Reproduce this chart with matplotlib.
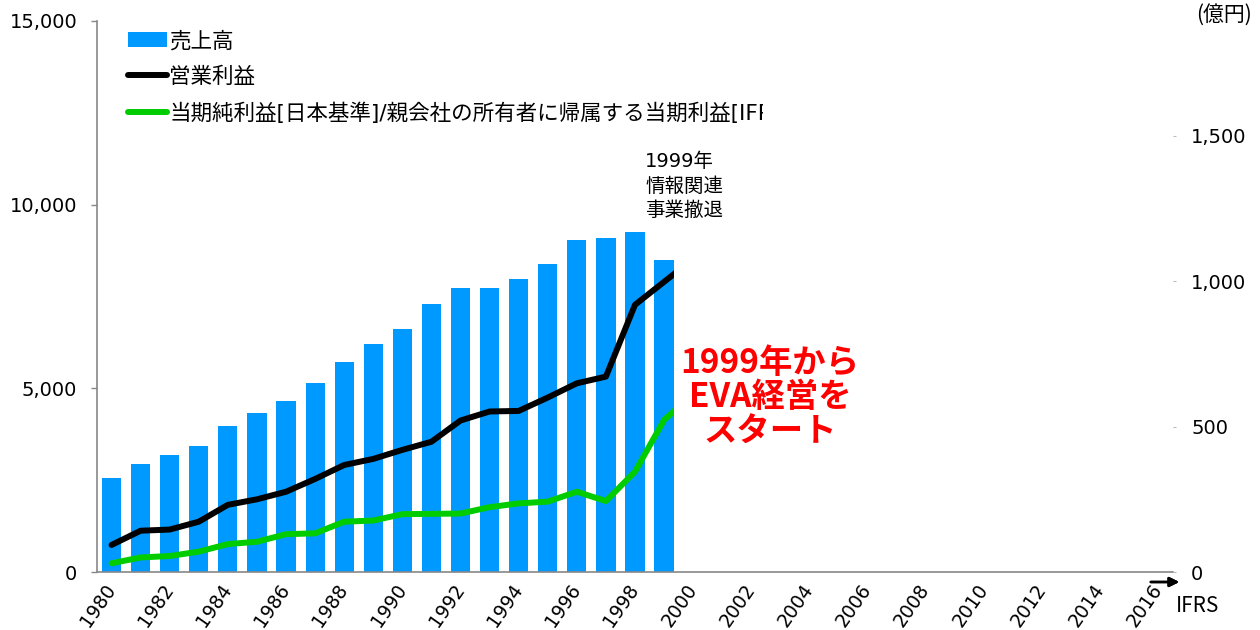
import numpy as np
import matplotlib.pyplot as plt
from matplotlib.patches import Rectangle
from matplotlib.transforms import Bbox, TransformedBbox

plt.rcParams['font.family'] = ['DejaVu Sans', 'Noto Sans CJK JP']

years = list(range(1980, 2017))
bar_years = list(range(1980, 2000))
line_years = list(range(1980, 2001))

# 売上高 (left axis)
sales = [2560, 2940, 3185, 3430, 3975, 4335, 4645, 5145, 5725, 6205,
         6625, 7305, 7720, 7740, 7975, 8375, 9030, 9085, 9255, 8485]

# 営業利益 (right axis)
op_profit = [93, 142, 146, 173, 231, 250, 276, 320, 368, 389,
             420, 448, 521, 552, 554, 600, 649, 672, 919, 998, 1077]

# 当期純利益 (right axis)
net_profit = [30, 50, 55, 70, 96, 104, 130, 133, 173, 177,
              199, 200, 201, 223, 236, 242, 276, 244, 345, 523, 612]

tick_years = years[::2]

fig = plt.figure(figsize=(12.6, 6.3), dpi=100)
ax = fig.add_axes([97 / 1260, 58 / 630, 1076 / 1260, 551 / 630])
ax2 = ax.twinx()

xb = np.arange(len(bar_years))
xl = np.arange(len(line_years))

bars = ax.bar(xb, sales, width=0.66, color='#0099FF', label='売上高', zorder=2)
ax.set_xlim(-0.5, len(years) - 0.5)
ax.set_ylim(0, 15000)
ax.set_yticks([0, 5000, 10000, 15000])
ax.set_yticklabels(['0', '5,000', '10,000', '15,000'])
ax.set_xticks(np.arange(0, len(years), 2))
ax.set_xticklabels([str(y) for y in tick_years], rotation=55, ha='right', va='center',
                   rotation_mode='anchor')
ax.tick_params(axis='x', length=0, pad=10, labelsize=13.5)
ax.tick_params(axis='y', length=4.3, width=1, color='#888888', pad=10, labelsize=14)
for s in ['top', 'right']:
    ax.spines[s].set_visible(False)
ax.spines['left'].set_color('#888888')
ax.spines['bottom'].set_color('#888888')
ax.spines['left'].set_linewidth(1.2)
ax.spines['bottom'].set_linewidth(1.2)

l1, = ax2.plot(xl, op_profit, color='black', lw=4.3, label='営業利益',
               solid_capstyle='round', solid_joinstyle='round', zorder=3)
l2, = ax2.plot(xl, net_profit, color='#00CC00', lw=4.3,
               label='当期純利益[日本基準]/親会社の所有者に帰属する当期利益[IFRS]',
               solid_capstyle='round', solid_joinstyle='round', zorder=3)
clip = Rectangle((-1, -100), 20.35, 3000, transform=ax2.transData)
l1.set_clip_path(clip)
l2.set_clip_path(clip)

ax2.set_ylim(0, 1895)
ax2.set_yticks([0, 500, 1000, 1500])
ax2.set_yticklabels(['0', '500', '1,000', '1,500'])
ax2.tick_params(axis='y', length=2, color='#bbbbbb', pad=11, labelsize=14)
for s in ['top', 'right', 'left', 'bottom']:
    ax2.spines[s].set_visible(False)

leg = ax2.legend(handles=[bars, l1, l2], loc='upper left', bbox_to_anchor=(0.015, 1.01),
                 frameon=False, fontsize=15.5, handlelength=1.8, handletextpad=0.1,
                 labelspacing=0.72, borderpad=0.2)
for t in leg.get_texts():
    t.set_clip_box(TransformedBbox(Bbox([[0, 0], [763 / 1260, 1]]), fig.transFigure))
    t.set_clip_on(True)

# annotations
fig.text(645 / 1260, 1 - 152 / 630, '1999年\n情報関連\n事業撤退', fontsize=14,
         ha='left', va='top', linespacing=1.38, family=['DejaVu Sans', 'Noto Sans CJK JP'])
fig.text(770 / 1260, 1 - 398 / 630, '1999年から\nEVA経営を\nスタート', fontsize=24,
         color='#FF0000', weight='bold', ha='center', va='center', linespacing=1.05,
         family=['Noto Sans CJK JP'])
fig.text(1252 / 1260, 1 - 15 / 630, '(億円)', fontsize=15, ha='right', va='center',
         family=['Noto Sans CJK JP'])
fig.text(1198 / 1260, 1 - 606 / 630, 'IFRS', fontsize=15, ha='center', va='center',
         family=['Noto Sans CJK JP'])
fig.add_artist(plt.annotate('', xy=(1182 / 1260, 1 - 582 / 630), xytext=(1148 / 1260, 1 - 582 / 630),
                            xycoords='figure fraction', textcoords='figure fraction',
                            arrowprops=dict(arrowstyle='-|>', color='black', lw=1.8,
                                            mutation_scale=14)))

fig.savefig('out.png', dpi=100)
